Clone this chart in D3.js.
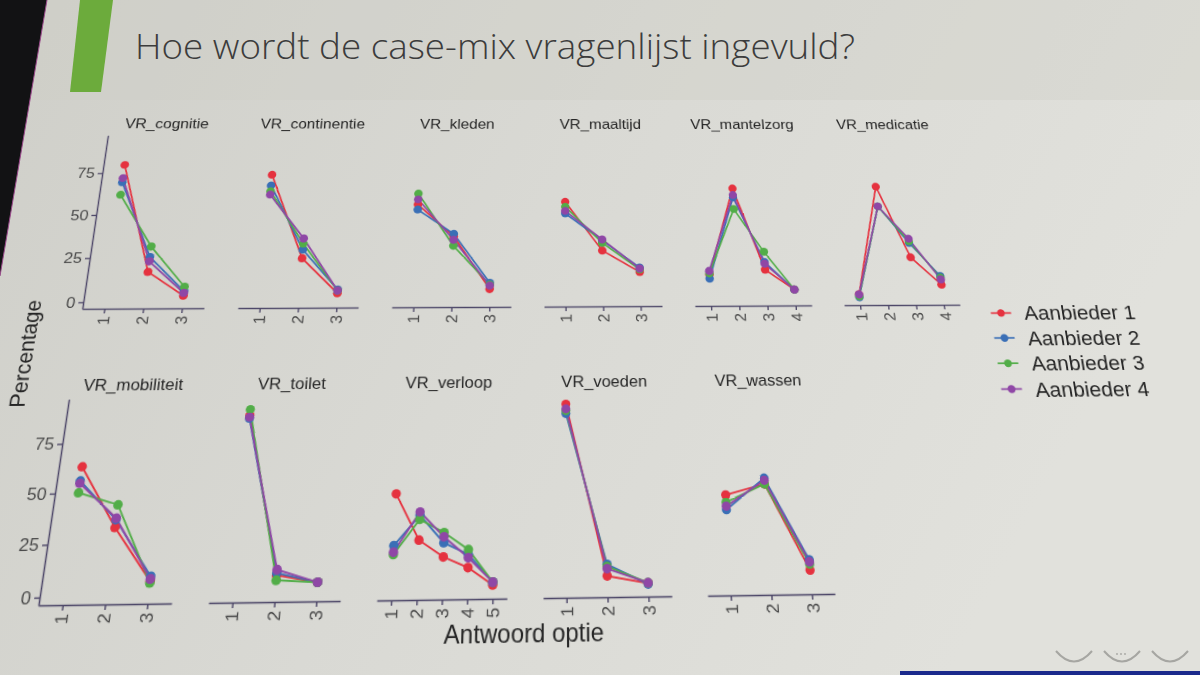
<!DOCTYPE html>
<html><head><meta charset="utf-8">
<script src="https://cdn.jsdelivr.net/npm/d3@7"></script>
<style>
html,body{margin:0;padding:0;width:1200px;height:675px;overflow:hidden;background:#d8d8d2;}
#bg{position:absolute;left:0;top:0;}
#chart{position:absolute;left:0;top:0;transform-origin:0 0;overflow:visible;}
</style></head><body>
<svg id="bg" width="1200" height="675"></svg>
<svg id="chart" width="1300" height="720"></svg>
<script>
// ---------- DATA ----------
const panels = ["VR_cognitie","VR_continentie","VR_kleden","VR_maaltijd","VR_mantelzorg","VR_medicatie",
                "VR_mobiliteit","VR_toilet","VR_verloop","VR_voeden","VR_wassen"];
const levelCounts = [3,3,3,3,4,4,3,3,5,3,3];
const aanbieder1 = [[80,17,3.5],[74,24.5,4.5],[56,37,6.5],[57.5,28.5,16],[14.3,65.5,17,5.5],[2.5,66.5,24,8],
                    [63.3,33,7],[89,9,5.4],[48,25,16.7,11.4,3],[93.5,6.5,2.8],[45.7,51,8]];
const aanbieder2 = [[69.5,25.5,6],[67.5,29.5,6.5],[53,38.5,10],[50.5,34.5,18.5],[12,60,21.5,5.5],[1,54.5,32.5,13],
                    [56.2,36.8,9.2],[87.4,10,5.4],[22.5,37.3,23.6,17.8,4.3],[88.5,12.1,2.4],[38.3,54,13]];
const aanbieder3 = [[62,31.5,8.5],[64,33,6],[62.5,31.5,9],[54.5,33,17.5],[15,53,27.5,5.5],[1.5,54.5,33.5,12],
                    [50.3,44.1,6.2],[92,6.6,5.4],[18.2,35.2,28.6,20.1,4.3],[90,11,3],[42,51,11]];
const aanbieder4 = [[72,23,5],[62,36,6],[59,35,8.5],[52,35,18],[16.4,61.5,20.5,5.5],[2.5,54.5,35,11],
                    [55,37.5,8],[88,11.6,5.4],[19.3,38.9,26.5,16.2,4.3],[91,10,3],[40,52.9,12]];
const seriesNames = ["Aanbieder 1","Aanbieder 2","Aanbieder 3","Aanbieder 4"];
const yTickValues = [0,25,50,75];
const titleText = "Hoe wordt de case-mix vragenlijst ingevuld?";
const xAxisTitle = "Antwoord optie";
const yAxisTitle = "Percentage";

// ---------- STYLE ----------
const seriesColors = ["#e5323f","#3a6fb6","#52ad48","#8f47a6"];
const series = [aanbieder1,aanbieder2,aanbieder3,aanbieder4];
const axisColor = "#4d4768";

// ---------- BACKGROUND (screen space) ----------
const bg = d3.select("#bg");
const defs = bg.append("defs");
const gr = defs.append("linearGradient").attr("id","slide").attr("x1",0).attr("x2",1).attr("y1",0).attr("y2",0.3);
gr.append("stop").attr("offset",0).attr("stop-color","#cfcfc9");
gr.append("stop").attr("offset",0.5).attr("stop-color","#d9d9d4");
gr.append("stop").attr("offset",1).attr("stop-color","#e1e1dc");
bg.append("rect").attr("width",1200).attr("height",675).attr("fill","url(#slide)");
bg.append("rect").attr("width",1200).attr("height",100).attr("fill","#cdcdc6").attr("opacity",0.35);
bg.append("path").attr("d","M0,0L47,0L0,276Z").attr("fill","#121214");
bg.append("path").attr("d","M47,0L0,276").attr("stroke","#9b4a8c").attr("stroke-width",1).attr("fill","none");
bg.append("path").attr("d","M80,0L113,0L101,92L70,92Z").attr("fill","#6cab3c");
bg.append("text").attr("x",135).attr("y",59).text(titleText)
  .attr("font-family","'Open Sans',sans-serif").attr("font-weight",300).attr("font-size",35)
  .attr("fill","#3c3c3c").attr("textLength",720).attr("lengthAdjust","spacingAndGlyphs");
[[1056,1092],[1104,1140],[1152,1188]].forEach(([a,b])=>{
  bg.append("path").attr("d",`M${a},651Q${(a+b)/2},672 ${b},651`).attr("fill","none")
    .attr("stroke","#a6a6a2").attr("stroke-width",2);
});
[1117,1121,1125].forEach(x=>bg.append("circle").attr("cx",x).attr("cy",654).attr("r",0.9).attr("fill","#a6a6a2"));
bg.append("rect").attr("x",900).attr("y",671).attr("width",300).attr("height",4).attr("fill","#1b2a8c");

// ---------- FLAT LAYOUT ----------
const all = series.flat(2);
const lo = d3.min(all), hi = d3.max(all), span = hi - lo;
const yDom = [lo - 0.05*span, hi + 0.05*span];
const S = 160, W = 125, L0 = 60, K = 1.94, Y0 = 310, RP = 292, NCOL = 6;
const panelH = (yDom[1]-yDom[0])*K;
const cr = i => ({c: i % NCOL, r: Math.floor(i / NCOL)});
const xScale = i => d3.scalePoint().domain(d3.range(1, levelCounts[i]+1))
  .range([L0 + S*cr(i).c, L0 + S*cr(i).c + W]).padding(0.57);
const yScale = r => d3.scaleLinear().domain(yDom).range([Y0 + RP*r, Y0 + RP*r - panelH]);

// ---------- HOMOGRAPHY (photo perspective) ----------
function solveLin(M, v){
  const n=v.length, A=M.map((r,i)=>[...r,v[i]]);
  for(let i=0;i<n;i++){let p=i;for(let j=i+1;j<n;j++)if(Math.abs(A[j][i])>Math.abs(A[p][i]))p=j;
    [A[i],A[p]]=[A[p],A[i]];
    for(let j=i+1;j<n;j++){const f=A[j][i]/A[i][i];for(let k=i;k<=n;k++)A[j][k]-=f*A[i][k];}}
  const x=new Array(n).fill(0);
  for(let i=n-1;i>=0;i--){let s=A[i][n];for(let k=i+1;k<n;k++)s-=A[i][k]*x[k];x[i]=s/A[i][i];}
  return x;
}
function fitH(pairs){
  const s=1000, rows=[], rhs=[];
  pairs.forEach(([x,y,X,Y])=>{x/=s;y/=s;X/=s;Y/=s;
    rows.push([x,y,1,0,0,0,-x*X,-y*X]);rhs.push(X);
    rows.push([0,0,0,x,y,1,-x*Y,-y*Y]);rhs.push(Y);});
  const M=[...Array(8)].map(()=>new Array(8).fill(0)), v=new Array(8).fill(0);
  rows.forEach((r,k)=>{for(let i=0;i<8;i++){v[i]+=r[i]*rhs[k];for(let j=0;j<8;j++)M[i][j]+=r[i]*r[j];}});
  const p=solveLin(M,v);
  return [p[0],p[1],p[2]*s,p[3],p[4],p[5]*s,p[6]/s,p[7]/s];
}
const y0 = yScale(0), y1 = yScale(1);
const xr = (i, lvl) => xScale(i)(lvl);
const pairs = [
  [L0, Y0, 81.7, 311.7], [L0, y0(75), 102.6, 172.3], [L0, y0(0), 82.8, 306.7], [L0, y0.range()[1], 107.3, 135],
  [L0+S*5+W, Y0, 960, 308], [L0+S*3, Y0, 545, 310], [L0+S, Y0, 236.7, 311],
  [xr(4,2), Y0, 738.3, 309], [xr(5,1), Y0, 861, 309], [xr(0,3), Y0, 181, 312],
  [L0, Y0+RP, 37.7, 606.7], [L0, y1(75), 63, 441], [L0, y1(0), 38.6, 600.7], [L0, y1.range()[1], 70, 395],
  [L0+S*4+W, Y0+RP, 834, 595], [L0+S*3, Y0+RP, 543.3, 597.3], [L0+S, Y0+RP, 208.3, 604.3],
  [xr(8,3), Y0+RP, 442.7, 598.3],
  [xr(0,1), y0(80), 126, 164], [xr(2,1), y0(62.5), 419, 192.7], [xr(4,2), y0(65.5), 731, 186],
  [xr(5,2), y0(66.5), 875.7, 182.3], [xr(6,1), y1(63.3), 82.7, 464.3], [xr(7,1), y1(92), 250.7, 405.7],
  [xr(8,1), y1(48), 397.3, 491.7], [xr(9,1), y1(93.5), 566.7, 398.3], [xr(10,2), y1(54), 763.3, 476.7]
];
const H = fitH(pairs);
const [a,b,c,d,e,f,g,h] = H;
const det = a*(e-f*h) - b*(d-f*g) + c*(d*h-e*g);
const inv = [[(e-f*h)/det,(c*h-b)/det,(b*f-c*e)/det],
             [(f*g-d)/det,(a-c*g)/det,(c*d-a*f)/det],
             [(d*h-e*g)/det,(b*g-a*h)/det,(a*e-b*d)/det]];
const toFlat = (X,Y)=>{const w=inv[2][0]*X+inv[2][1]*Y+inv[2][2];
  return [(inv[0][0]*X+inv[0][1]*Y+inv[0][2])/w,(inv[1][0]*X+inv[1][1]*Y+inv[1][2])/w];};

const chart = d3.select("#chart");
chart.style("transform",`matrix3d(${a},${d},0,${g},${b},${e},0,${h},0,0,1,0,${c},${f},0,1)`);

// ---------- PANELS ----------
const font = "'Liberation Sans',Arial,sans-serif";
panels.forEach((name, i)=>{
  const {c: col, r} = cr(i);
  const xs = xScale(i), ys = yScale(r);
  const left = L0 + S*col;
  const gp = chart.append("g");
  gp.append("text").attr("x", left + W/2).attr("y", ys.range()[1] - 9).attr("text-anchor","middle")
    .attr("font-family",font).attr("font-size",17).attr("fill","#262626").text(name);
  const gx = gp.append("g").attr("transform",`translate(0,${ys.range()[0]})`)
    .call(d3.axisBottom(xs).tickSize(5).tickSizeOuter(0));
  gx.select(".domain").attr("stroke",axisColor).attr("stroke-width",1.5);
  gx.selectAll(".tick line").attr("stroke",axisColor).attr("stroke-width",1.4);
  gx.selectAll(".tick text").attr("transform","rotate(-90)").attr("text-anchor","end")
    .attr("x",-8).attr("y",0).attr("dy","0.35em").attr("font-family",font).attr("font-size",17).attr("fill","#4a4a4a");
  if (col === 0) {
    const gy = gp.append("g").attr("transform",`translate(${left},0)`)
      .call(d3.axisLeft(ys).tickValues(yTickValues).tickSize(5).tickSizeOuter(0).tickPadding(3));
    gy.select(".domain").attr("stroke",axisColor).attr("stroke-width",1.5);
    gy.selectAll(".tick line").attr("stroke",axisColor).attr("stroke-width",1.4);
    gy.selectAll(".tick text").attr("font-family",font).attr("font-size",17).attr("fill","#4a4a4a");
  }
  const line = d3.line().x((v,j)=>xs(j+1)).y(v=>ys(v));
  series.forEach((s, si)=>{
    gp.append("path").attr("d", line(s[i])).attr("fill","none")
      .attr("stroke",seriesColors[si]).attr("stroke-width",1.8);
  });
  series.forEach((s, si)=>{
    gp.selectAll(null).data(s[i]).enter().append("circle")
      .attr("cx",(v,j)=>xs(j+1)).attr("cy",v=>ys(v)).attr("r",4.6).attr("fill",seriesColors[si]);
  });
});

// ---------- AXIS TITLES ----------
const pY = toFlat(33, 353);
chart.append("text").attr("transform",`translate(${pY[0]},${pY[1]}) rotate(-90)`).attr("text-anchor","middle")
  .attr("font-family",font).attr("font-size",22).attr("fill","#262626").text(yAxisTitle);
const pX = toFlat(524, 642);
chart.append("text").attr("x",pX[0]).attr("y",pX[1]).attr("text-anchor","middle")
  .attr("font-family",font).attr("font-size",23).attr("fill","#262626").text(xAxisTitle);

// ---------- LEGEND ----------
const l1 = toFlat(1000.7, 313), l4 = toFlat(1011.7, 389);
const lx = (l1[0] + l4[0]) / 2, ldy = (l4[1] - l1[1]) / 3;
const lg = chart.append("g");
seriesNames.forEach((nm, si)=>{
  const yy = l1[1] + si*ldy;
  lg.append("line").attr("x1",lx-11).attr("x2",lx+11).attr("y1",yy).attr("y2",yy)
    .attr("stroke",seriesColors[si]).attr("stroke-width",1.8);
  lg.append("circle").attr("cx",lx).attr("cy",yy).attr("r",4.2).attr("fill",seriesColors[si]);
  lg.append("text").attr("x",lx+25).attr("y",yy).attr("dy","0.36em").attr("font-family",font)
    .attr("font-size",22.5).attr("fill","#262626").text(nm);
});
</script></body></html>
